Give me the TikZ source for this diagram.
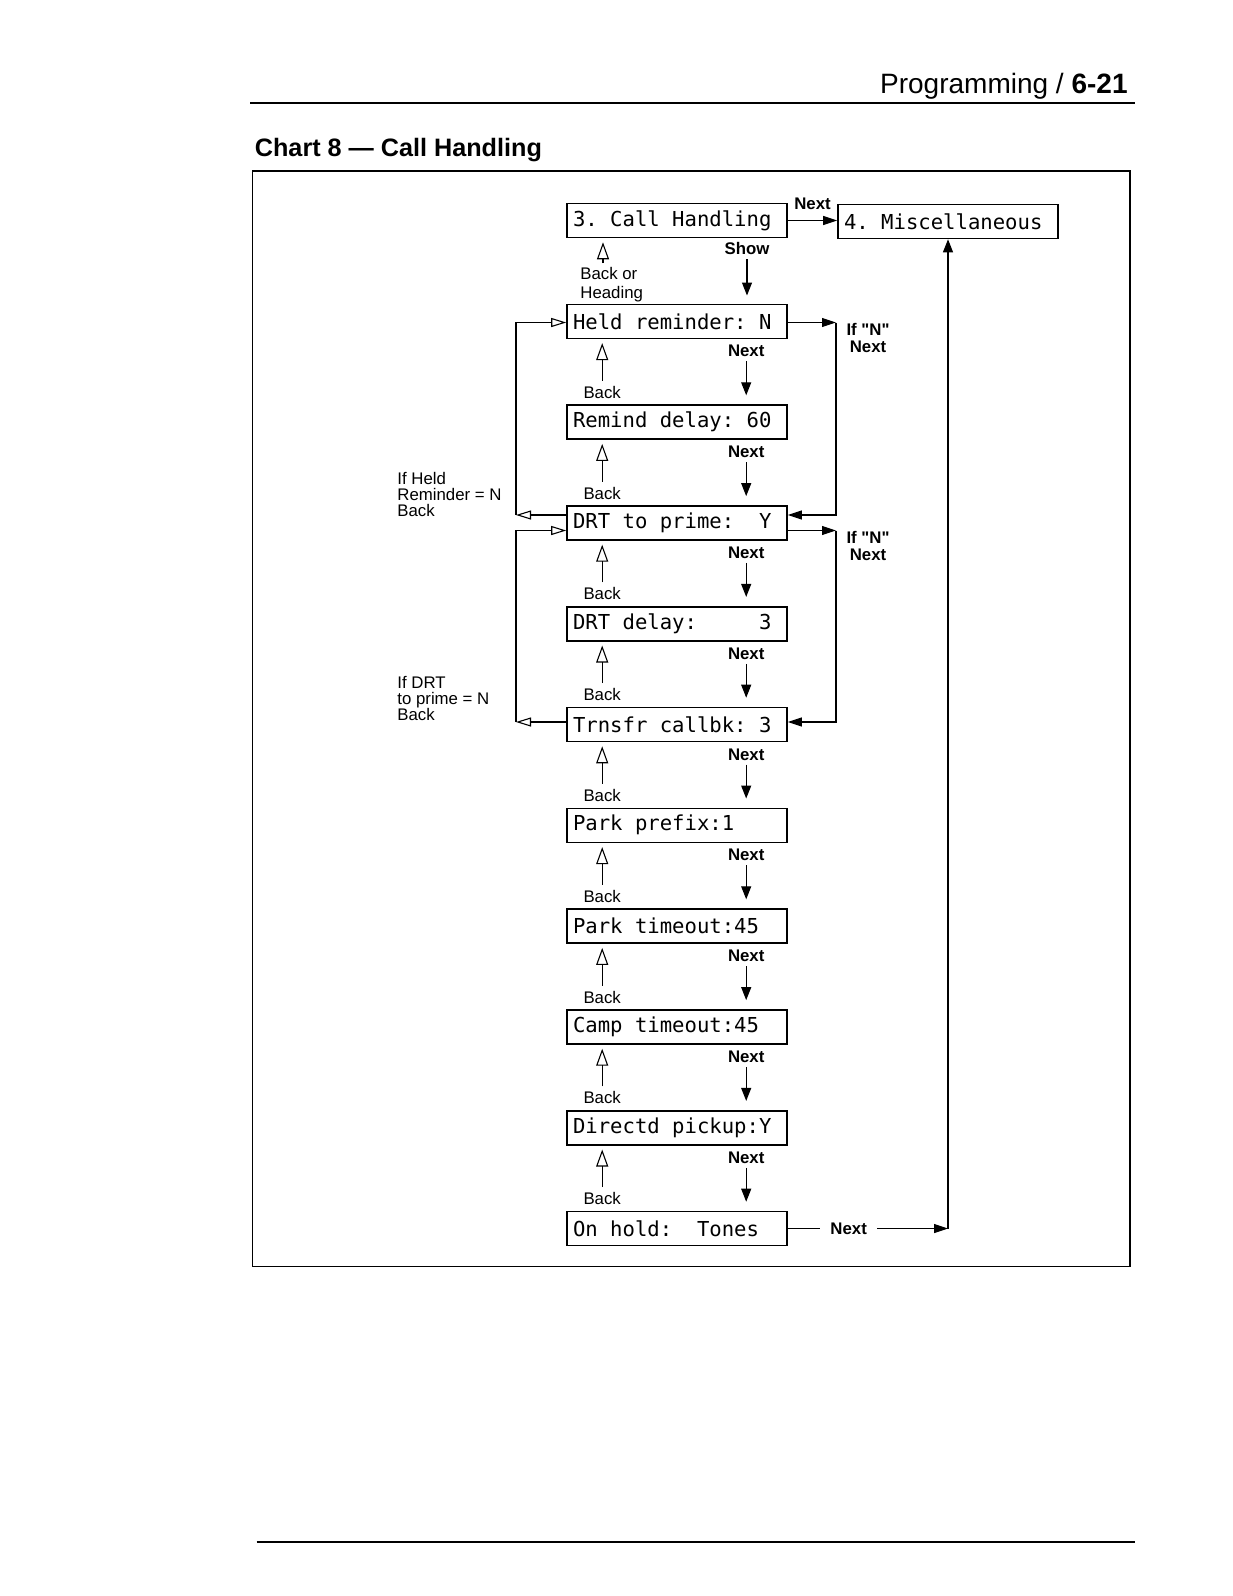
\documentclass[tikz,border=0pt]{standalone}
\usepackage{fontspec}
\setmainfont{Liberation Sans}
\setmonofont{DejaVu Sans Mono}
\usetikzlibrary{arrows.meta,calc,positioning}
\newcommand{\lcdfont}{\fontsize{10.3}{12}\ttfamily}
\newcommand{\lsp}{\hphantom{0}}

\begin{document}
\begin{tikzpicture}[
    x=0.5pt, y=-0.5pt,
    lcd/.style={draw, line width=0.8pt, minimum height=17pt, text width=104pt,
        inner xsep=3pt, inner ysep=0pt, align=left, font=\lcdfont},
    lbl/.style={font=\fontsize{8.4}{8}\selectfont, inner sep=1pt, align=left},
    nxt/.style={font=\fontsize{8.4}{8.5}\selectfont\bfseries, inner sep=1pt, align=center},
    fwd/.style={line width=0.55pt, -{Triangle[width=5pt,length=6.5pt]}},
    fwdh/.style={line width=0.55pt, -{Triangle[width=4.5pt,length=7pt]}},
    bck/.style={line width=0.55pt, -{Triangle[open,width=6pt,length=8.5pt]}},
    bckh/.style={line width=0.55pt, -{Triangle[open,width=4.5pt,length=7.5pt]}}
]
    \useasboundingbox (0,0) rectangle (1232,1596);

    % page head and chart frame
    \node[font=\fontsize{14}{16}\selectfont, anchor=base east, inner sep=0] (pghead) at (1128,93.5) {Programming / \textbf{6-21}};
    \draw[line width=0.7pt] (250,103) -- (1135,103);
    \node[font=\fontsize{12.6}{14}\selectfont\bfseries, anchor=base west, inner sep=0] (charttitle) at (254.5,156) {Chart 8 — Call Handling};
    \draw[line width=0.6pt] (252.5,171) rectangle (1130,1266.5);
    \draw[line width=0.6pt] (256.5,1542) -- (1135,1542);

    % display boxes, one below the other
    \foreach \nm/\txt [count=\i from 0] in {call/3.\lsp Call\lsp Handling, held/Held\lsp reminder:\lsp N,
        remind/Remind\lsp delay:\lsp 60, drtp/DRT\lsp to\lsp prime:\lsp\lsp Y, drtd/DRT\lsp delay:\lsp\lsp\lsp\lsp\lsp 3,
        trans/Trnsfr\lsp callbk:\lsp 3, pkpre/Park\lsp prefix:1, pktime/Park\lsp timeout:45,
        camp/Camp\lsp timeout:45, dpick/Directd\lsp pickup:Y, hold/On\lsp hold:\lsp\lsp Tones} {
        \node[lcd] (\nm) at (677,{220.5+100.8*\i}) {\txt};
    }
    \node[lcd] (misc) at (948,221.5) {4.\lsp Miscellaneous};

    % heading level
    \draw[fwdh] (call.east) -- node[nxt, above=4pt] (nxmisc) {Next} (call.east -| misc.west);
    \node[nxt] (show) at (747,248.5) {Show};
    \draw[fwd, shorten <=1pt, shorten >=4pt] (show.south) -- (show.south |- held.north);
    \node[lbl, anchor=north west, font=\fontsize{8.4}{9.5}\selectfont] (bkhd) at (578,265) {Back or\\Heading};
    \coordinate (bkhdtop) at (603,263);
    \draw[bck, shorten >=2pt] (bkhdtop) -- (bkhdtop |- call.south);

    % Next / Back between the items
    \foreach \a/\b in {held/remind, remind/drtp, drtp/drtd, drtd/trans, trans/pkpre,
        pkpre/pktime, pktime/camp, camp/dpick, dpick/hold} {
        \node[nxt] (nx-\b) at ($(\a.south west)+(180,12)$) {Next};
        \node[lbl] (bk-\b) at ($(\b.north west)+(36,-12)$) {Back};
        \draw[fwd, shorten <=1pt, shorten >=4.5pt] (nx-\b.south) -- (nx-\b.south |- \b.north);
        \draw[bck, shorten <=1.5pt, shorten >=2pt] (bk-\b.north) -- (bk-\b.north |- \a.south);
    }

    % skip loops on the left
    \coordinate (lpa) at (516,515);
    \coordinate (lpb) at (516,322.5);
    \draw[bckh] (drtp.west |- lpa) -- (lpa);
    \draw[bckh] (lpa) -- (lpb) -- (lpb -| held.west);
    \node[lbl, anchor=north west] (ifheld) at (395,470) {If Held\\Reminder = N\\Back};

    \coordinate (lpc) at (516,722);
    \coordinate (lpd) at (516,530.5);
    \draw[bckh] (trans.west |- lpc) -- (lpc);
    \draw[bckh] (lpc) -- (lpd) -- (lpd -| drtp.west);
    \node[lbl, anchor=north west] (ifdrt) at (395,673.5) {If DRT\\to prime = N\\Back};

    % skip loops on the right
    \coordinate (rpa) at (836,322.5);
    \coordinate (rpb) at (836,515);
    \draw[fwdh] (held.east |- rpa) -- (rpa);
    \draw[fwdh] (rpa) -- (rpb) -- (rpb -| drtp.east);
    \node[nxt] (ifn1) at (868,337.5) {If \textquotedbl N\textquotedbl\\Next};

    \coordinate (rpc) at (836,530.5);
    \coordinate (rpd) at (836,722);
    \draw[fwdh] (drtp.east |- rpc) -- (rpc);
    \draw[fwdh] (rpc) -- (rpd) -- (rpd -| trans.east);
    \node[nxt] (ifn2) at (868,546) {If \textquotedbl N\textquotedbl\\Next};

    % last item back up to Miscellaneous
    \draw[fwdh] (hold.east) -- node[nxt, fill=white, inner xsep=5pt, pos=0.38] (nxlast) {Next} (hold.east -| misc.south);
    \draw[fwd] (hold.east -| misc.south) -- (misc.south);
\end{tikzpicture}
\end{document}
